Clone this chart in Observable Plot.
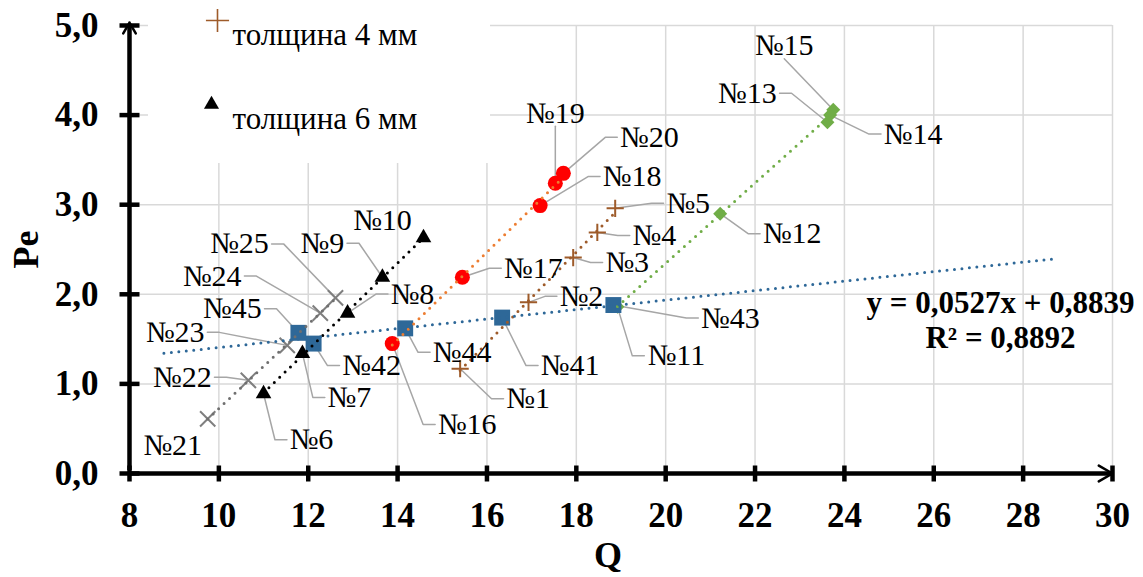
<!DOCTYPE html>
<html>
<head>
<meta charset="utf-8">
<script src="https://cdn.jsdelivr.net/npm/d3@7"></script>
<script src="https://cdn.jsdelivr.net/npm/@observablehq/plot@0.6"></script>
<style>
  html, body { margin: 0; padding: 0; background: #ffffff; }
  #chart svg { display: block; }
  #chart svg text { font-family: "Liberation Serif", "Times New Roman", Times, serif; }
</style>
</head>
<body>
<div id="chart"></div>
<script>
// ---------------- data ----------------
const xTicks = [8, 10, 12, 14, 16, 18, 20, 22, 24, 26, 28, 30];
const yTicks = [0, 1, 2, 3, 4, 5];

const legendLabels = ["толщина 4 мм", "толщина 6 мм"];
const equationLines = ["y = 0,0527x + 0,8839", "R² = 0,8892"];

// grey crosses
const greyNames = ["№21", "№22", "№23", "№24", "№25"];
const greyQ     = [9.75, 10.66, 11.53, 12.27, 12.61];
const greyPe    = [0.61, 1.04, 1.43, 1.79, 1.96];

// black triangles — толщина 6 мм
const blackNames = ["№6", "№7", "№8", "№9", "№10"];
const blackQ     = [11.00, 11.87, 12.88, 13.66, 14.58];
const blackPe    = [0.89, 1.34, 1.79, 2.19, 2.63];

// brown pluses — толщина 4 мм
const brownNames = ["№1", "№2", "№3", "№4", "№5"];
const brownQ     = [15.40, 16.93, 17.93, 18.47, 18.87];
const brownPe    = [1.17, 1.91, 2.41, 2.69, 2.96];

// red circles
const redNames = ["№16", "№17", "№18", "№19", "№20"];
const redQ     = [13.88, 15.45, 17.19, 17.53, 17.71];
const redPe    = [1.45, 2.19, 2.99, 3.24, 3.35];

// blue squares
const blueNames = ["№45", "№42", "№44", "№41", "№43"];
const blueQ     = [11.78, 12.12, 14.17, 16.34, 18.83];
const bluePe    = [1.57, 1.45, 1.62, 1.74, 1.88];

// green diamonds
const greenNames = ["№11", "№12", "№13", "№14", "№15"];
const greenQ     = [18.92, 21.22, 23.62, 23.68, 23.75];
const greenPe    = [1.86, 2.90, 3.92, 4.00, 4.06];

// blue trend line is extended (forecast) over this Q range
const blueTrendRange = [8.77, 28.77];

// ---------------- layout / style (not data) ----------------
const W = 1143, H = 577;
const mL = 129, mR = 31, mT = 25, mB = 104;
const xDomain = [8, 30], yDomain = [0, 5];
const kx = (W - mL - mR) / (xDomain[1] - xDomain[0]);
const ky = (H - mT - mB) / (yDomain[1] - yDomain[0]);
const serif = '"Liberation Serif", "Times New Roman", Times, serif';
const labelSize = 30;

const colors = {
  grey: "#7f7f7f", black: "#000000", brown: "#9e5b2a",
  red: "#ff0000", orange: "#ed7d31", blue: "#2e6898", green: "#70ad47"
};

// label placement: pixel offset of text centre from the point, and leader side
const labelOffsets = {
  "№21": [-35, 27, "n"], "№22": [-66, -3, "r"], "№23": [-112, -13, "r"],
  "№24": [-108, -37, "r"], "№25": [-96, -54, "r"], "№45": [-66, -24, "r"],
  "№42": [58, 22, "l"], "№7": [47, 44, "l"], "№6": [48, 46, "l"],
  "№8": [65, -19, "l"], "№9": [-60, -34, "r"], "№10": [-41, -17, "n"],
  "№16": [75, 81, "l"], "№44": [57, 24, "l"], "№1": [68, 30, "l"],
  "№41": [68, 48, "l"], "№11": [59, 49, "l"], "№43": [117, 13, "l"],
  "№2": [53, -6, "l"], "№3": [54, 5, "l"], "№4": [57, 3, "l"],
  "№5": [73, -5, "l"], "№17": [71, -9, "l"], "№18": [92, -29, "l"],
  "№19": [0, -70, "b"], "№20": [86, -36, "l"], "№12": [72, 20, "l"],
  "№13": [-80, -29, "r"], "№14": [83, 19, "l"], "№15": [-49, -64, "b"]
};

// ---------------- build tables ----------------
const mk = (names, q, pe) => names.map((n, i) => ({name: n, q: q[i], pe: pe[i]}));
const grey = mk(greyNames, greyQ, greyPe);
const black = mk(blackNames, blackQ, blackPe);
const brown = mk(brownNames, brownQ, brownPe);
const red = mk(redNames, redQ, redPe);
const blue = mk(blueNames, blueQ, bluePe);
const green = mk(greenNames, greenQ, greenPe);
const allPoints = [...grey, ...black, ...brown, ...red, ...blue, ...green];

function fit(rows) {
  const mx = d3.mean(rows, d => d.q), my = d3.mean(rows, d => d.pe);
  const sxy = d3.sum(rows, d => (d.q - mx) * (d.pe - my));
  const sxx = d3.sum(rows, d => (d.q - mx) ** 2);
  const b = sxy / sxx, a = my - b * mx;
  return x => a + b * x;
}
function trend(rows, range) {
  const f = fit(rows);
  const [x0, x1] = range || d3.extent(rows, d => d.q);
  return [{q: x0, pe: f(x0)}, {q: x1, pe: f(x1)}];
}

// pixel offsets -> data coordinates
const offX = (x, dx) => x + dx / kx;
const offY = (y, dy) => y - dy / ky;

const labelRows = [];
const leaderRows = [];
allPoints.forEach(p => {
  const [dx, dy, mode] = labelOffsets[p.name];
  labelRows.push({name: p.name, q: offX(p.q, dx), pe: offY(p.pe, dy)});
  const hw = labelSize * (0.47 + 0.25 * ([...p.name].length - 1));
  let pts = [];
  if (mode === "l") pts = [[dx - hw - 3, dy], [dx - hw - 15, dy], [0, 0]];
  else if (mode === "r") pts = [[dx + hw + 3, dy], [dx + hw + 15, dy], [0, 0]];
  else if (mode === "b") pts = [[dx, dy + 13], [0, 0]];
  pts.forEach(([ox, oy]) => leaderRows.push({name: p.name, q: offX(p.q, ox), pe: offY(p.pe, oy)}));
});

// legend background box (pixel rectangle) in data coordinates
const px2x = px => xDomain[0] + (px - mL) / kx;
const px2y = py => yDomain[0] + (H - mB - py) / ky;
const legendBox = [{x1: px2x(148), x2: px2x(490), y1: px2y(163), y2: px2y(0)}];

// custom symbols for crossing axis ticks
const hBar = {draw(ctx, size) { const l = Math.sqrt(size / Math.PI); ctx.moveTo(-l, 0); ctx.lineTo(l, 0); }};
const vBar = {draw(ctx, size) { const l = Math.sqrt(size / Math.PI); ctx.moveTo(0, -l); ctx.lineTo(0, l); }};
const diamond = d3.symbolDiamond2 || "diamond";

const dotted = {strokeWidth: 3, strokeDasharray: "0,7.5", strokeLinecap: "round"};
const txt = {fontFamily: serif};

const chart = Plot.plot({
  width: W, height: H,
  marginLeft: mL, marginRight: mR, marginTop: mT, marginBottom: mB,
  style: {fontFamily: serif, fontSize: "35px", fontWeight: "bold", color: "#000", background: "#fff", overflow: "visible"},
  x: {domain: xDomain, ticks: xTicks, tickFormat: d => String(d), tickSize: 0, tickPadding: 29, label: null},
  y: {domain: yDomain, ticks: yTicks, tickFormat: d => d.toFixed(1).replace(".", ","), tickSize: 0, tickPadding: 31, label: null},
  marks: [
    // grid
    Plot.ruleX(xTicks.slice(1), {stroke: "#d9d9d9", strokeWidth: 1.5}),
    Plot.ruleY(yTicks.slice(1), {stroke: "#d9d9d9", strokeWidth: 1.5}),
    // legend background
    Plot.rect(legendBox, {x1: "x1", x2: "x2", y1: "y1", y2: "y2", fill: "#fff"}),
    // leader lines
    Plot.line(leaderRows, {x: "q", y: "pe", z: "name", stroke: "#a6a6a6", strokeWidth: 1.5}),
    // markers
    Plot.dot(grey, {x: "q", y: "pe", symbol: "times", r: 7, stroke: colors.grey, strokeWidth: 2}),
    Plot.dot(black, {x: "q", y: "pe", symbol: "triangle", r: 5.8, fill: colors.black}),
    Plot.dot(brown, {x: "q", y: "pe", symbol: "plus", r: 5.6, stroke: colors.brown, strokeWidth: 2}),
    Plot.dot(red, {x: "q", y: "pe", symbol: "circle", r: 7.5, fill: colors.red}),
    Plot.dot(green, {x: "q", y: "pe", symbol: diamond, r: 6.3, fill: colors.green}),
    Plot.dot(blue, {x: "q", y: "pe", symbol: "square", r: 9, fill: colors.blue}),
    // trend lines
    Plot.line(trend(grey), {x: "q", y: "pe", stroke: "#6f6f6f", ...dotted}),
    Plot.line(trend(black), {x: "q", y: "pe", stroke: colors.black, ...dotted}),
    Plot.line(trend(brown), {x: "q", y: "pe", stroke: colors.brown, ...dotted}),
    Plot.line(trend(red), {x: "q", y: "pe", stroke: colors.orange, ...dotted}),
    Plot.line(trend(green), {x: "q", y: "pe", stroke: colors.green, ...dotted}),
    Plot.line(trend(blue, blueTrendRange), {x: "q", y: "pe", stroke: colors.blue, ...dotted}),
    // axes: thick shafts, thin open arrow heads, crossing ticks
    Plot.ruleX([xDomain[0]], {y1: yDomain[0], y2: yDomain[1], stroke: "#000", strokeWidth: 4.5, insetTop: -3}),
    Plot.ruleY([yDomain[0]], {x1: xDomain[0], x2: xDomain[1], stroke: "#000", strokeWidth: 4.5}),
    Plot.arrow([0], {x1: xDomain[0], y1: yDomain[0], x2: xDomain[0], y2: yDomain[1], insetEnd: -3,
      stroke: "#000", strokeWidth: 2.5, headLength: 7.5, headAngle: 60}),
    Plot.arrow([0], {x1: xDomain[0], y1: yDomain[0], x2: xDomain[1], y2: yDomain[0],
      stroke: "#000", strokeWidth: 2.5, headLength: 9.5, headAngle: 60}),
    Plot.dot(yTicks, {x: xDomain[0], y: d => d, symbol: hBar, r: 10, stroke: "#000", strokeWidth: 4.5}),
    Plot.dot(xTicks, {x: d => d, y: yDomain[0], symbol: vBar, r: 8, stroke: "#000", strokeWidth: 4.5}),
    // data labels
    Plot.text(labelRows, {x: "q", y: "pe", text: "name", fontSize: labelSize, fontWeight: "normal", fill: "#000", ...txt}),
    // legend
    Plot.dot([0], {frameAnchor: "top-left", dx: 88, dy: -5, symbol: "plus", r: 7.5, stroke: colors.brown, strokeWidth: 1.6}),
    Plot.dot([0], {frameAnchor: "top-left", dx: 82, dy: 79, symbol: "triangle", r: 5.6, fill: "#000"}),
    Plot.text([legendLabels[0]], {text: d => d, frameAnchor: "top-left", dx: 103, dy: -3, textAnchor: "start",
      fontSize: 31, fontWeight: "normal", ...txt}),
    Plot.text([legendLabels[1]], {text: d => d, frameAnchor: "top-left", dx: 103, dy: 81, textAnchor: "start",
      fontSize: 31, fontWeight: "normal", ...txt}),
    // regression equation
    Plot.text([equationLines[0]], {text: d => d, frameAnchor: "top-right", dx: -112, dy: 278, textAnchor: "middle",
      lineAnchor: "middle", fontSize: 31, fontWeight: "bold", ...txt}),
    Plot.text([equationLines[1]], {text: d => d, frameAnchor: "top-right", dx: -112, dy: 313, textAnchor: "middle",
      lineAnchor: "middle", fontSize: 31, fontWeight: "bold", ...txt}),
    // axis titles
    Plot.text(["Pe"], {text: d => d, frameAnchor: "left", dx: -103, rotate: -90, textAnchor: "middle",
      lineAnchor: "middle", fontSize: 36, fontWeight: "bold", ...txt}),
    Plot.text(["Q"], {text: d => d, frameAnchor: "bottom", dx: -13, dy: 82, textAnchor: "middle",
      lineAnchor: "middle", fontSize: 36, fontWeight: "bold", ...txt})
  ]
});
document.getElementById("chart").appendChild(chart);
</script>
</body>
</html>
